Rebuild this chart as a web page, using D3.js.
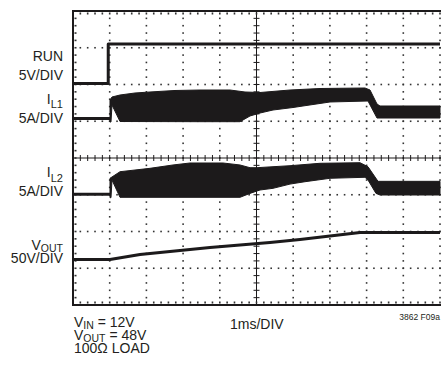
<!DOCTYPE html>
<html><head><meta charset="utf-8">
<script src="https://cdn.jsdelivr.net/npm/d3@7"></script>
<style>
html,body{margin:0;padding:0;background:#fff;}
svg{display:block;}
text{font-family:"Liberation Sans", Arial, Helvetica, sans-serif; fill:#231f20;}
</style></head><body>
<svg id="chart" width="441" height="369"></svg>
<script>
// Time in ms (1ms/DIV); vertical values in screen divisions (0 = bottom edge, 8 = top edge)
const runT = [0, 0.96, 0.96, 10];
const runV = [6.027, 6.027, 7.102, 7.102];

const il1BaseT = [0, 1.035];
const il1BaseV = [5.075, 5.075];
const il1TopT = [1.008, 1.063, 1.281, 1.689, 2.098, 2.779, 3.460, 4.278, 4.687, 5.095, 5.913, 6.730, 7.956, 8.093, 8.283, 8.365, 10];
const il1TopV = [5.578, 5.660, 5.714, 5.769, 5.796, 5.837, 5.850, 5.850, 5.796, 5.782, 5.850, 5.891, 5.905, 5.850, 5.469, 5.415, 5.415];
const il1BotT = [1.008, 1.035, 1.063, 1.281, 3.460, 4.550, 4.823, 5.095, 5.450, 5.995, 6.267, 7.003, 8.038, 8.283, 10];
const il1BotV = [4.980, 4.980, 5.442, 4.993, 4.988, 4.988, 5.143, 5.224, 5.306, 5.374, 5.415, 5.524, 5.551, 5.088, 5.088];

const il2BaseT = [0, 1.035];
const il2BaseV = [3.012, 3.012];
const il2TopT = [1.008, 1.281, 2.098, 2.725, 3.188, 4.087, 4.550, 4.823, 5.014, 5.450, 5.913, 6.730, 7.820, 8.038, 8.311, 10];
const il2TopV = [3.448, 3.627, 3.719, 3.810, 3.864, 3.864, 3.810, 3.736, 3.736, 3.763, 3.790, 3.856, 3.872, 3.763, 3.365, 3.365];
const il2BotT = [1.008, 1.035, 1.063, 1.281, 4.550, 4.823, 5.095, 5.450, 5.913, 6.322, 7.003, 7.956, 8.038, 8.256, 8.365, 10];
const il2BotV = [2.920, 2.920, 3.400, 2.930, 2.930, 3.037, 3.129, 3.175, 3.290, 3.355, 3.448, 3.475, 3.401, 3.037, 2.993, 2.993];

const voutT = [0, 1.008, 1.826, 2.779, 3.733, 4.550, 5.368, 6.185, 7.003, 7.820, 10];
const voutV = [1.238, 1.238, 1.374, 1.469, 1.565, 1.633, 1.701, 1.782, 1.878, 1.973, 1.973];

const xDivs = d3.range(0, 11);
const yDivs = d3.range(0, 9);

const svg = d3.select("#chart");
const x = d3.scaleLinear().domain([0, 10]).range([73, 440]);
const y = d3.scaleLinear().domain([0, 8]).range([305, 11]);
const ink = "#1c1a1b";

// ---- graticule ----
const g = svg.append("g");
const minor = d3.range(0, 10.001, 0.2);
const minorY = d3.range(0, 8.001, 0.2);
// dotted vertical lines
xDivs.filter(d => d !== 0 && d !== 5).forEach(d => {
  g.selectAll(null).data(minorY).enter().append("rect")
    .attr("x", x(d) - 0.8).attr("y", v => y(v) - 0.8)
    .attr("width", 1.6).attr("height", 1.6).attr("fill", "#333");
});
// dotted horizontal lines
yDivs.filter(d => d !== 0 && d !== 8 && d !== 4).forEach(d => {
  g.selectAll(null).data(minor).enter().append("rect")
    .attr("x", t => x(t) - 0.8).attr("y", y(d) - 0.8)
    .attr("width", 1.6).attr("height", 1.6).attr("fill", "#333");
});
// center lines
g.append("line").attr("x1", x(0)).attr("x2", 441).attr("y1", y(4)).attr("y2", y(4))
  .attr("stroke", ink).attr("stroke-width", 1);
g.append("line").attr("x1", x(5)).attr("x2", x(5)).attr("y1", y(0)).attr("y2", y(8))
  .attr("stroke", ink).attr("stroke-width", 1);
g.selectAll(null).data(minor).enter().append("line")
  .attr("x1", t => x(t)).attr("x2", t => x(t)).attr("y1", y(4) - 3).attr("y2", y(4) + 3)
  .attr("stroke", ink).attr("stroke-width", 1);
g.selectAll(null).data(minorY).enter().append("line")
  .attr("x1", x(5) - 3).attr("x2", x(5) + 3).attr("y1", v => y(v)).attr("y2", v => y(v))
  .attr("stroke", ink).attr("stroke-width", 1);
// border ticks
g.selectAll(null).data(minor).enter().append("rect")
  .attr("x", t => x(t) - 0.8).attr("y", y(8) + 1.5).attr("width", 1.6).attr("height", 2).attr("fill", "#333");
g.selectAll(null).data(minor).enter().append("rect")
  .attr("x", t => x(t) - 0.8).attr("y", y(0) - 3.5).attr("width", 1.6).attr("height", 2).attr("fill", "#333");
g.selectAll(null).data(minorY).enter().append("rect")
  .attr("x", x(0) + 1.5).attr("y", v => y(v) - 0.8).attr("width", 2).attr("height", 1.6).attr("fill", "#333");
// frame
g.append("line").attr("x1", x(0)).attr("x2", 441).attr("y1", y(8)).attr("y2", y(8)).attr("stroke", ink).attr("stroke-width", 2);
g.append("line").attr("x1", x(0)).attr("x2", 441).attr("y1", y(0)).attr("y2", y(0)).attr("stroke", ink).attr("stroke-width", 2);
g.append("line").attr("x1", x(0)).attr("x2", x(0)).attr("y1", y(8) - 1).attr("y2", y(0) + 1).attr("stroke", ink).attr("stroke-width", 2);

// ---- traces ----
const line = d3.line().x(d => x(d[0])).y(d => y(d[1]));
const zip = (a, b) => a.map((t, i) => [t, b[i]]);
const tr = svg.append("g");
function trace(T, V) {
  tr.append("path").attr("d", line(zip(T, V))).attr("fill", "none")
    .attr("stroke", ink).attr("stroke-width", 3).attr("stroke-linejoin", "round");
}
function band(tT, tV, bT, bV) {
  const pts = zip(tT, tV).concat(zip(bT, bV).reverse());
  tr.append("path").attr("d", line(pts) + "Z").attr("fill", ink)
    .attr("stroke", ink).attr("stroke-width", 1);
}
trace(runT, runV);
trace(il1BaseT, il1BaseV);
band(il1TopT, il1TopV, il1BotT, il1BotV);
trace(il2BaseT, il2BaseV);
band(il2TopT, il2TopV, il2BotT, il2BotV);
trace(voutT, voutV);

// ---- labels ----
const L = svg.append("g").attr("font-size", 14);
function label(xp, yp, parts, anchor) {
  const t = L.append("text").attr("x", xp).attr("y", yp).attr("text-anchor", anchor || "end");
  parts.forEach(p => {
    const s = t.append("tspan").text(p[0]);
    if (p[1]) s.attr("font-size", p[1]);
    if (p[2] !== undefined) s.attr("dy", p[2]);
  });
  return t;
}
label(63, 60.5, [["RUN"]]);
label(63, 80, [["5V/DIV"]]);
label(63, 104, [["I"], ["L1", 11, 4]]);
label(63, 123, [["5A/DIV"]]);
label(63, 177, [["I"], ["L2", 11, 5]]);
label(63, 196, [["5A/DIV"]]);
label(63, 250, [["V"], ["OUT", 10.5, 2]]);
label(63, 263, [["50V/DIV"]]);

label(74, 327, [["V"], ["IN", 10.5, 1.5], [" = 12V", null, -1.5]], "start");
label(74, 340, [["V"], ["OUT", 10.5, 1.5], [" = 48V", null, -1.5]], "start");
label(74, 353, [["100Ω LOAD"]], "start");
label(230, 329, [["1ms/DIV"]], "start");
svg.append("text").attr("x", 440).attr("y", 320).attr("text-anchor", "end")
  .attr("font-size", 8.5).text("3862 F09a");
</script>
</body></html>
